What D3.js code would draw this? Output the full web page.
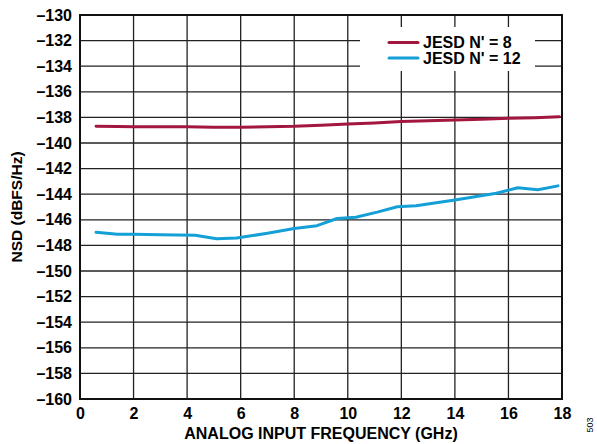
<!DOCTYPE html>
<html><head><meta charset="utf-8">
<script src="https://cdn.jsdelivr.net/npm/d3@7"></script>
<style>body{margin:0;background:#fff}svg{display:block}text{font-family:"Liberation Sans",Arial,sans-serif;font-weight:bold;fill:#000}</style>
</head><body>
<script>
const seriesNames = ["JESD N' = 8", "JESD N' = 12"];
const seriesColors = ["#a3173f", "#14a0d6"];
const freqN8 = [0.6, 1.4, 2, 3, 4, 5, 6, 7, 8, 9, 10, 11, 12, 13, 14, 15, 16, 17, 17.9];
const nsdN8 = [-138.70, -138.71, -138.73, -138.73, -138.73, -138.77, -138.77, -138.73, -138.70, -138.62, -138.52, -138.44, -138.32, -138.27, -138.20, -138.14, -138.07, -138.02, -137.95];
const freqN12 = [0.6, 1.4, 2, 3, 4.3, 5.1, 5.85, 7, 8, 8.85, 9.6, 10.3, 11.1, 11.85, 12.55, 14, 15.55, 16.35, 17.1, 17.85];
const nsdN12 = [-146.98, -147.12, -147.12, -147.17, -147.2, -147.48, -147.43, -147.05, -146.68, -146.46, -145.9, -145.8, -145.4, -144.98, -144.9, -144.45, -143.92, -143.5, -143.65, -143.35];
const xTicks = [0, 2, 4, 6, 8, 10, 12, 14, 16, 18];
const yTicks = [-130, -132, -134, -136, -138, -140, -142, -144, -146, -148, -150, -152, -154, -156, -158, -160];

const W = 597, H = 444;
const m = {left: 80, right: 35, top: 15, bottom: 45};
const svg = d3.select("body").append("svg").attr("width", W).attr("height", H);
const x = d3.scaleLinear().domain([0, 18]).range([m.left, W - m.right]);
const y = d3.scaleLinear().domain([-160, -130]).range([H - m.bottom, m.top]);

// grid
const g = svg.append("g");
g.selectAll("line.v").data(xTicks).join("line")
  .attr("x1", d => x(d)).attr("x2", d => x(d)).attr("y1", y(-130)).attr("y2", y(-160))
  .attr("stroke", "#222").attr("stroke-width", 1.3);
g.selectAll("line.h").data(yTicks).join("line")
  .attr("y1", d => y(d)).attr("y2", d => y(d)).attr("x1", x(0)).attr("x2", x(18))
  .attr("stroke", "#222").attr("stroke-width", 1.3);

// legend background
svg.append("rect").attr("x", 360).attr("y", 27).attr("width", 175).attr("height", 44).attr("fill", "#fff");

// frame
svg.append("rect").attr("x", x(0)).attr("y", y(-130)).attr("width", x(18) - x(0)).attr("height", y(-160) - y(-130))
  .attr("fill", "none").attr("stroke", "#111").attr("stroke-width", 2);

// axes labels
const fmt = d => d < 0 ? "\u2013" + Math.abs(d) : String(d);
svg.append("g").attr("transform", `translate(0,${y(-160)})`)
  .call(d3.axisBottom(x).tickValues(xTicks).tickSize(0).tickPadding(9).tickFormat(fmt))
  .call(s => s.select(".domain").remove())
  .selectAll("text").style("font-size", "16px").attr("fill", "#000");
svg.append("g").attr("transform", `translate(${x(0)},0)`)
  .call(d3.axisLeft(y).tickValues(yTicks).tickSize(0).tickPadding(8).tickFormat(fmt))
  .call(s => s.select(".domain").remove())
  .selectAll("text").style("font-size", "16px").attr("fill", "#000");

// lines
const line = d3.line().x(d => x(d[0])).y(d => y(d[1]));
const data = [d3.zip(freqN8, nsdN8), d3.zip(freqN12, nsdN12)];
svg.selectAll("path.s").data(data).join("path")
  .attr("d", line).attr("fill", "none")
  .attr("stroke", (d, i) => seriesColors[i]).attr("stroke-width", 3)
  .attr("stroke-linejoin", "round").attr("stroke-linecap", "round");

// legend
seriesNames.forEach((n, i) => {
  const ly = 42.5 + i * 15.5;
  svg.append("line").attr("x1", 389).attr("x2", 418).attr("y1", ly).attr("y2", ly)
    .attr("stroke", seriesColors[i]).attr("stroke-width", 3).attr("stroke-linecap", "round");
  svg.append("text").attr("x", 423).attr("y", ly + 5.5).style("font-size", "16px").text(n);
});

// titles
svg.append("text").attr("x", (x(0) + x(18)) / 2).attr("y", 439).attr("text-anchor", "middle")
  .style("font-size", "16px").text("ANALOG INPUT FREQUENCY (GHz)");
svg.append("text").attr("transform", `translate(22,${(y(-130) + y(-160)) / 2}) rotate(-90)`)
  .attr("text-anchor", "middle").style("font-size", "15.5px").text("NSD (dBFS/Hz)");
svg.append("text").attr("transform", "translate(593,425) rotate(-90)")
  .attr("text-anchor", "middle").style("font-size", "9px").style("font-weight", "normal").text("503");
</script>
</body></html>
